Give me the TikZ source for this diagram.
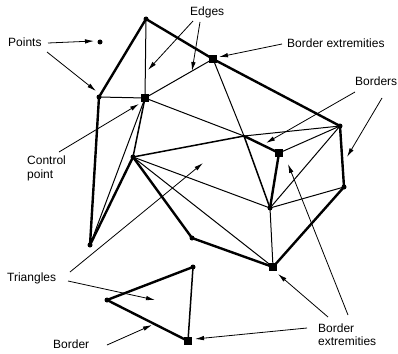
\documentclass[tikz,border=0pt]{standalone}
\usepackage{fontspec}
\setmainfont{Liberation Sans}
\usetikzlibrary{arrows.meta}
\begin{document}
\begin{tikzpicture}[x=1pt,y=-1pt,
  thickE/.style={line width=2.4pt, line cap=round, line join=round},
  medE/.style={line width=1.5pt, line cap=round},
  thinE/.style={line width=1.0pt, line cap=round},
  ptr/.style={-{Latex[length=9pt,width=4.5pt]}, line width=0.8pt},
  lbl/.style={font=\fontsize{12}{14}\selectfont, inner sep=0pt, anchor=base west},
  dotv/.style={circle, fill, inner sep=0pt, minimum size=5pt},
  sqv/.style={rectangle, fill, inner sep=0pt, minimum size=8pt}]
\useasboundingbox (0,0) rectangle (398,353);
% vertices
\coordinate (T) at (146,19);
\coordinate (A) at (99,97);
\coordinate (C) at (145,98);
\coordinate (BE) at (213,59);
\coordinate (M) at (244,136);
\coordinate (S2) at (279,153);
\coordinate (R) at (340,126);
\coordinate (R2) at (344,187);
\coordinate (V2) at (270,208);
\coordinate (P) at (133,157);
\coordinate (B) at (90,245);
\coordinate (V3) at (192,238);
\coordinate (S3) at (273,267);
\coordinate (Q1) at (193,267);
\coordinate (Q2) at (107,300);
\coordinate (Q3) at (188,341);
\coordinate (Pt) at (100,42);
% thin edges
\draw[thinE] (A) -- (C);
\draw[thinE] (T) -- (C);
\draw[thinE] (C) -- (BE);
\draw[thinE] (C) -- (M);
\draw[thinE] (C) -- (B);
\draw[thinE] (BE) -- (M);
\draw[thinE] (M) -- (R);
\draw[thinE] (S2) -- (R);
\draw[thinE] (R) -- (V2);
\draw[thinE] (R2) -- (V2);
\draw[thinE] (V2) -- (S3);
\draw[thinE] (P) -- (V2);
\draw[thinE] (P) -- (S3);
\draw[medE] (Q1) -- (Q3);
\draw[medE] (C) -- (P);
\draw[medE] (P) -- (M);
\draw[medE] (M) -- (V2);
% thick (border) edges
\draw[thickE] (B) -- (A) -- (T) -- (BE) -- (R) -- (R2) -- (S3) -- (V3) -- (P) -- (B);
\draw[thickE] (M) -- (S2) -- (V2);
\draw[thickE] (Q1) -- (Q2) -- (Q3);
% markers
\node[dotv] (nPt) at (Pt) {};
\node[dotv] (nT) at (T) {};
\node[dotv] (nA) at (A) {};
\node[dotv] (nR) at (R) {};
\node[dotv] (nR2) at (R2) {};
\node[dotv] (nV2) at (V2) {};
\node[dotv] (nP) at (P) {};
\node[dotv] (nB) at (B) {};
\node[dotv] (nV3) at (V3) {};
\node[dotv] (nQ1) at (Q1) {};
\node[dotv] (nQ2) at (Q2) {};
\node[sqv] (nC) at (C) {};
\node[sqv] (nBE) at (BE) {};
\node[sqv] (nS2) at (S2) {};
\node[sqv] (nS3) at (S3) {};
\node[sqv] (nQ3) at (Q3) {};
% labels
\node[lbl] (lPoints) at (8,47) {Points};
\node[lbl] (lEdges) at (190,16) {Edges};
\node[lbl] (lBE1) at (287,48) {Border extremities};
\node[lbl] (lBorders) at (355,85) {Borders};
\node[lbl] (lCtrl) at (27,164) {Control};
\node[lbl] (lPoint) at (27,178) {point};
\node[lbl] (lTri) at (7,281) {Triangles};
\node[lbl] (lBorder) at (53,348) {Border};
\node[lbl] (lBE2a) at (318,332) {Border};
\node[lbl] (lBE2b) at (318,345) {extremities};
% pointer coordinates
\coordinate (pa1s) at (48,43); \coordinate (pa1e) at (94,41);
\coordinate (pa2s) at (47,52); \coordinate (pa2e) at (96,91);
\coordinate (ea1s) at (193,21); \coordinate (ea1e) at (148,70);
\coordinate (ea2s) at (200,22); \coordinate (ea2e) at (192,71);
\coordinate (bx1s) at (282,44); \coordinate (bx1e) at (219,57);
\coordinate (b1s) at (355,92); \coordinate (b1e) at (266,143);
\coordinate (b2s) at (382,98); \coordinate (b2e) at (347,157);
\coordinate (cps) at (59,152); \coordinate (cpe) at (139,104);
\coordinate (t1s) at (70,272); \coordinate (t1e) at (203,163);
\coordinate (t2s) at (68,281); \coordinate (t2e) at (155,300);
\coordinate (bs) at (107,345); \coordinate (bend) at (152,325);
\coordinate (x1s) at (307,328); \coordinate (x1e) at (195,339);
\coordinate (x2s) at (328,317); \coordinate (x2e) at (278,274);
\coordinate (x3s) at (348,315); \coordinate (x3e) at (288,164);
% pointers
\draw[ptr] (pa1s) -- (pa1e);
\draw[ptr] (pa2s) -- (pa2e);
\draw[ptr] (ea1s) -- (ea1e);
\draw[ptr] (ea2s) -- (ea2e);
\draw[ptr] (bx1s) -- (bx1e);
\draw[ptr] (b1s) -- (b1e);
\draw[ptr] (b2s) -- (b2e);
\draw[ptr] (cps) -- (cpe);
\draw[ptr] (t1s) -- (t1e);
\draw[ptr] (t2s) -- (t2e);
\draw[ptr] (bs) -- (bend);
\draw[ptr] (x1s) -- (x1e);
\draw[ptr] (x2s) -- (x2e);
\draw[ptr] (x3s) -- (x3e);
\end{tikzpicture}
\end{document}
